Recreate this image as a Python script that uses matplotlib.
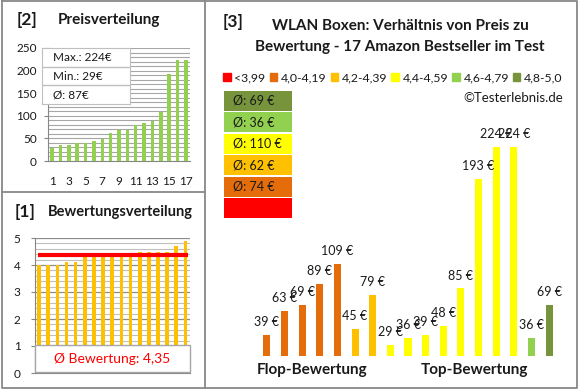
import numpy as np
import matplotlib
matplotlib.use('Agg')
import matplotlib.pyplot as plt
from matplotlib.patches import Rectangle, Patch
from matplotlib.lines import Line2D

plt.rcParams['font.family'] = ['Lato', 'DejaVu Sans']

# products ordered from worst to best rating
ratings = [4.0, 4.0, 4.0, 4.1, 4.1, 4.3, 4.3, 4.4, 4.4, 4.4, 4.4, 4.5, 4.5, 4.5, 4.5, 4.7, 4.9]
prices = [39, 63, 69, 89, 109, 45, 79, 29, 36, 39, 48, 85, 193, 224, 224, 36, 69]

# rating classes
class_labels = ['<3,99', '4,0-4,19', '4,2-4,39', '4,4-4,59', '4,6-4,79', '4,8-5,0']
class_colors = ['#FF0000', '#E46C0A', '#FFC000', '#FFFF00', '#92D050', '#77933C']
class_edges = [3.995, 4.195, 4.395, 4.595, 4.795]

W, H = 580, 390
fig = plt.figure(figsize=(W / 100, H / 100), dpi=100)
txt = '#1a1a1a'
border = '#888888'


def px(x0, y0, x1, y1):
    # pixel box (top-left origin) -> figure fraction rect
    return [x0 / W, 1 - y1 / H, (x1 - x0) / W, (y1 - y0) / H]


def ftext(x, y, s, **kw):
    kw.setdefault('va', 'center')
    kw.setdefault('color', txt)
    fig.text(x / W, 1 - y / H, s, **kw)


def fline(xs, ys):
    fig.add_artist(Line2D([x / W for x in xs], [1 - y / H for y in ys],
                          transform=fig.transFigure, color=border, lw=1.3))


n = len(prices)
pos = np.arange(1, n + 1)
cls = np.digitize(ratings, class_edges)

# panel frames
fline([2, 577, 577, 2, 2], [1, 1, 388, 388, 1])
fline([205, 205], [1, 388])
fline([2, 205], [192, 192])

# ---- [2] Preisverteilung
ftext(17, 20, '[2]', fontsize=12.5, weight='bold')
ftext(58, 20, 'Preisverteilung', fontsize=11, weight='bold')

ax1 = fig.add_axes(px(48, 48, 190, 161))
ax1.bar(pos, sorted(prices), width=0.42, color='#92D050', zorder=3)
ax1.set_xlim(0.5, n + 0.5)
ax1.set_ylim(0, 250)
ax1.set_yticks(range(0, 251, 50))
ax1.set_yticks(range(0, 251, 10), minor=True)
ax1.set_xticks(pos[::2])
ax1.grid(axis='y', which='both', color='#A6A6A6', lw=0.8)
ax1.set_axisbelow(True)
for s in ['top', 'right']:
    ax1.spines[s].set_visible(False)
for s in ['left', 'bottom']:
    ax1.spines[s].set_color('#868686')
ax1.tick_params(axis='y', which='minor', length=0)
ax1.tick_params(axis='y', which='major', length=3, color='#868686', pad=5, labelsize=8.5, labelcolor=txt)
ax1.tick_params(axis='x', length=0, pad=11, labelsize=8.5, labelcolor=txt)

ax_s = fig.add_axes(px(42, 48, 130, 104))
ax_s.set_xlim(0, 1)
ax_s.set_ylim(3, 0)
ax_s.set_xticks([])
ax_s.set_yticks([])
for s in ax_s.spines.values():
    s.set_color('#BFBFBF')
ax_s.axhline(1, color='#BFBFBF', lw=1)
ax_s.axhline(2, color='#BFBFBF', lw=1)
stats = ['Max.: %d€' % max(prices), 'Min.: %d€' % min(prices),
         'Ø: %d€' % round(np.mean(prices))]
for i, s in enumerate(stats):
    ax_s.text(0.12, i + 0.5, s, va='center', fontsize=8.5, color=txt)

# ---- [1] Bewertungsverteilung
ftext(15, 212, '[1]', fontsize=12.5, weight='bold')
ftext(48, 212, 'Bewertungsverteilung', fontsize=10.5, weight='bold')

ax2 = fig.add_axes(px(34.5, 238, 190, 373))
ax2.bar(pos, ratings, width=0.4, color='#FFC000', zorder=3)
ax2.set_xlim(0.5, n + 0.5)
ax2.set_ylim(0, 5)
ax2.set_yticks(range(0, 6))
ax2.set_yticks(np.arange(0, 5.01, 0.2), minor=True)
ax2.set_xticks([])
ax2.grid(axis='y', which='minor', color='#BFBFBF', lw=0.8)
ax2.grid(axis='y', which='major', color='#8C8C8C', lw=0.9)
ax2.set_axisbelow(True)
for s in ['top', 'right']:
    ax2.spines[s].set_visible(False)
for s in ['left', 'bottom']:
    ax2.spines[s].set_color('#868686')
ax2.tick_params(axis='y', which='minor', length=0)
ax2.tick_params(axis='y', which='major', length=3, color='#868686', pad=7, labelsize=8.5, labelcolor=txt)
avg = np.mean(ratings)
ax2.plot([0.88, n + 0.28], [avg, avg], color='#FF0000', lw=3, zorder=4, solid_capstyle='butt')
ax2.add_patch(Rectangle((0.5, 0.03), n, 1.01, facecolor='white', edgecolor='#A6A6A6',
                        lw=1, zorder=5, clip_on=False))
ax2.text((n + 1) / 2, 0.52, 'Ø Bewertung: %s' % ('%.2f' % avg).replace('.', ','),
         ha='center', va='center', fontsize=10, color='#FF0000', zorder=6)

# ---- [3] price vs rating
ftext(223, 22, '[3]', fontsize=12.5, weight='bold')
ftext(400, 26, 'WLAN Boxen: Verhältnis von Preis zu', ha='center', fontsize=11, weight='bold')
ftext(400, 47, 'Bewertung - 17 Amazon Bestseller im Test', ha='center', fontsize=11, weight='bold')
ftext(563, 98, '©Testerlebnis.de', ha='right', fontsize=9.5)

fig.legend(handles=[Patch(color=c, label=l) for c, l in zip(class_colors, class_labels)],
           ncol=6, loc='center', bbox_to_anchor=(393 / W, 1 - 78 / H), frameon=False,
           handlelength=0.6, handleheight=0.6, handletextpad=0.3, columnspacing=0.35,
           fontsize=8.8, labelcolor=txt, borderaxespad=0, borderpad=0)

ax3 = fig.add_axes(px(258, 100, 558, 356))
ax3.axis('off')
ax3.set_xlim(0.5, n + 0.5)
ax3.set_ylim(18.6, 270.3)
ax3.bar(pos, prices, width=0.4, color=[class_colors[c] for c in cls], bottom=0)
for x, p in zip(pos, prices):
    ax3.annotate('%d €' % p, (x, p), xytext=(0, 5), textcoords='offset points',
                 ha='center', va='bottom', fontsize=9, color=txt)

ftext(312, 370, 'Flop-Bewertung', ha='center', fontsize=11, weight='bold')
ftext(474, 370, 'Top-Bewertung', ha='center', fontsize=11, weight='bold')

# average price per rating class, best class on top
ax4 = fig.add_axes(px(224, 90, 292, 219))
ax4.axis('off')
ax4.set_xlim(0, 1)
ax4.set_ylim(5.5, -0.5)
for row, c in enumerate(range(len(class_labels) - 1, -1, -1)):
    ax4.barh(row, 1, height=0.91, color=class_colors[c])
    vals = [p for p, k in zip(prices, cls) if k == c]
    if vals:
        ax4.text(0.13, row, 'Ø: %d €' % round(np.mean(vals)), va='center', fontsize=9, color=txt)

fig.savefig('out.png', dpi=100)
